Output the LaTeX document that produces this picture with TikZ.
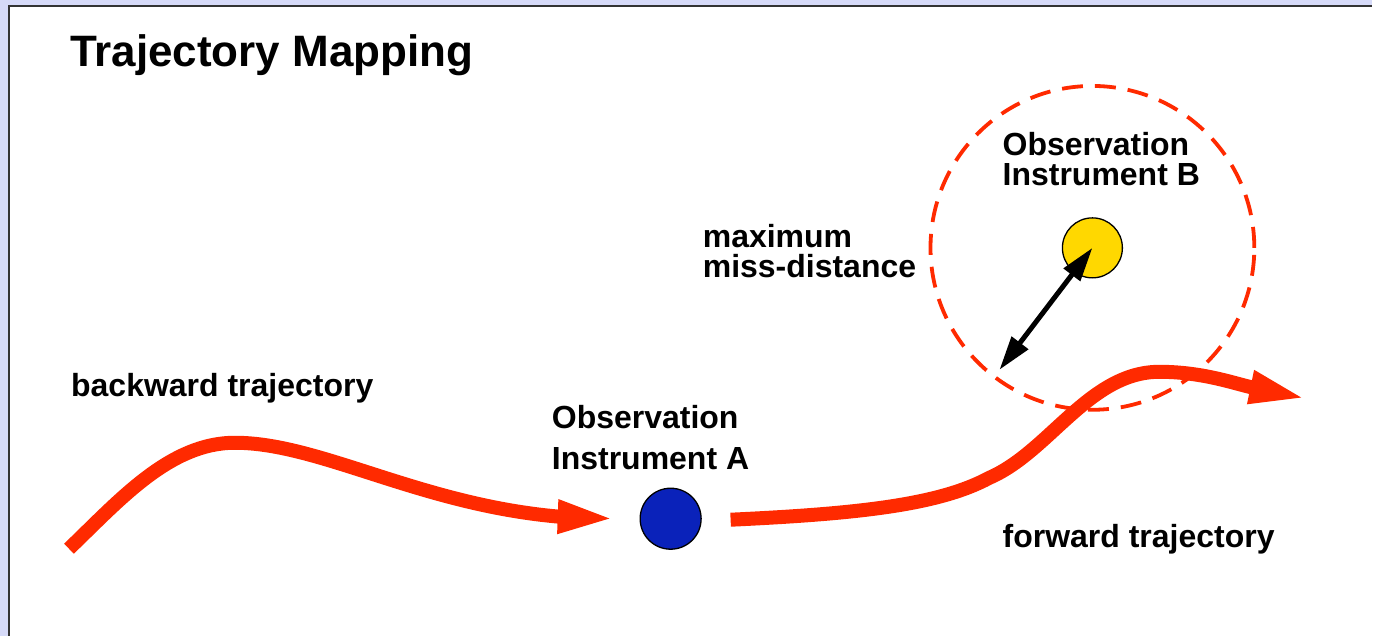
\documentclass[tikz,border=0pt]{standalone}
\usepackage{fontspec}
\setmainfont{Liberation Sans}
\usetikzlibrary{arrows.meta}
\definecolor{bgl}{HTML}{D6DAF8}
\definecolor{trajred}{HTML}{FF2A00}
\definecolor{obsblue}{HTML}{0A22BA}
\definecolor{obsyellow}{HTML}{FFD800}
\tikzset{
  lbl/.style={anchor=base west, inner sep=0pt, font=\fontsize{32}{30}\selectfont\bfseries, align=left},
  traj/.style={draw=trajred, line width=14pt, line cap=butt, -{Triangle[length=58pt 0 0,width=30pt 0 0]}},
  obs/.style={circle, draw=black, line width=1.3pt, minimum size=61pt, inner sep=0pt},
  misscircle/.style={circle, draw=trajred, line width=3.8pt, dash pattern=on 21pt off 12pt, minimum size=324pt, inner sep=0pt},
  miss/.style={draw=black, line width=5pt, {Triangle[length=34pt 0 0,width=20pt 0 0]}-{Triangle[length=34pt 0 0,width=20pt 0 0]}}
}
\begin{document}
\begin{tikzpicture}[x=1pt,y=-1pt]
\fill[bgl] (0,0) rectangle (1373,636);
\fill[white] (9,6) rectangle (1373,636);
\draw[black!80, line width=1.5pt] (9,636) -- (9,6) -- (1373,6);
\useasboundingbox (0,0) rectangle (1373,636);

\node[anchor=base west, inner sep=0pt, font=\fontsize{44}{44}\selectfont\bfseries] (title) at (70,67) {Trajectory Mapping};

% observation sites
\node[obs, fill=obsblue] (A) at (671,519) {};
\node[obs, fill=obsyellow, minimum size=60pt] (B) at (1093,248) {};
\coordinate (m) at (1000,370);
\coordinate (bstart) at (69,549);
\coordinate (btip) at (616,519);
\coordinate (fstart) at (731,520);
\coordinate (ftip) at (1308,399);

% trajectories
\draw[traj] (bstart) .. controls (120,500) and (170,443) .. (235,443)
  .. controls (320,443) and (420,505) .. (560,517) -- (btip);
\draw[traj] (fstart) .. controls (860,514) and (940,505) .. (990,478)
  .. controls (1050,452) and (1090,372) .. (1160,372)
  .. controls (1200,372) and (1230,382) .. (1250,387) -- (ftip);

% max miss-distance circle
\node[misscircle] (R) at (B.center) {};
\draw[miss] (B.center) -- (m);

% labels
\node[lbl] (lB) at (1003,186) {Observation\\Instrument B};
\node[lbl] (lmiss) at (703,278) {maximum\\miss-distance};
\node[lbl] (lback) at (71,397) {backward trajectory};
\node[lbl, font=\fontsize{32}{41}\selectfont\bfseries] (lA) at (552,470) {Observation\\Instrument A};
\node[lbl] (lfwd) at (1003,548) {forward trajectory};
\end{tikzpicture}
\end{document}
